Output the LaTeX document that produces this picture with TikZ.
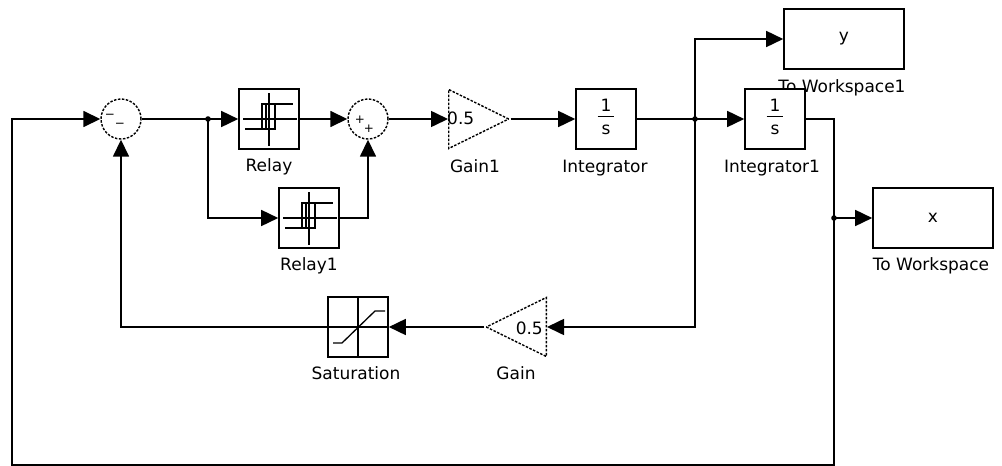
\documentclass[tikz,border=0pt]{standalone}
\usepackage{fontspec}
\setmainfont{DejaVu Sans}
\usetikzlibrary{arrows.meta,shapes.geometric,positioning}
\newcommand{\lblfont}{\fontsize{17}{20}\selectfont}
\newcommand{\signfont}{\fontsize{12}{13}\selectfont}
\newcommand{\oneovers}{\begin{tabular}{@{\hspace{3pt}}c@{\hspace{3pt}}}1\\[-2pt]\hline\rule{0pt}{18pt}s\end{tabular}}
\tikzstyle{block} = [rectangle, draw=black, line width=1.6pt, fill=white, inner sep=0pt, minimum width=60pt, minimum height=60pt, font=\lblfont]
\tikzstyle{sumnode} = [circle, draw=black, line width=1.4pt, dash pattern=on 2.5pt off 1.5pt, minimum size=40pt, inner sep=0pt]
\tikzstyle{gainnode} = [isosceles triangle, isosceles triangle stretches, draw=black, line width=1.4pt, dash pattern=on 2.5pt off 1.5pt, minimum width=59pt, minimum height=60pt, inner sep=0pt]
\tikzstyle{arrow} = [line width=1.6pt, -{Triangle[length=17pt,width=16pt]}]
\tikzstyle{wire} = [line width=1.6pt]
\tikzstyle{icon} = [line width=1.3pt]
\tikzstyle{lbl} = [font=\lblfont, inner sep=0pt, anchor=base]
\tikzstyle{sign} = [font=\signfont, inner sep=0pt]

\begin{document}
\begin{tikzpicture}[x=1pt,y=-1pt]
\useasboundingbox (0,0) rectangle (1002,466);

% Blocks
\node (sum1) [sumnode] at (121,119) {};
\node (relay) [block] at (269,119) {};
\node (relay1) [block] at (309,218) {};
\node (sum2) [sumnode] at (368,119) {};
\node (gain1) [gainnode, anchor=lower side] at (448,119) {};
\node (integ) [block] at (606,119) {\oneovers};
\node (tows1lbl) [lbl] at (842,92) {To Workspace1};
\node (tows1) [block, minimum width=120pt] at (844,39) {y};
\node (integ1) [block] at (775,119) {\oneovers};
\node (tows) [block, minimum width=120pt] at (933,218) {x};
\node (sat) [block] at (358,327) {};
\node (gain) [gainnode, shape border rotate=180, anchor=lower side] at (547,327) {};

% Texts inside
\node (gain1val) [lbl, anchor=base west] at (447,124) {0.5};
\node (gainval) [lbl, anchor=base east] at (543,334) {0.5};
\node (sum1a) [sign] at (110,116) {−};
\node (sum1b) [sign] at (120,125) {−};
\node (sum2a) [sign] at (360,120) {+};
\node (sum2b) [sign] at (369,129) {+};

% Labels
\node (relaylbl) [lbl] at (269,171) {Relay};
\node (relay1lbl) [lbl] at (309,270) {Relay1};
\node (gain1lbl) [lbl] at (475,172) {Gain1};
\node (integlbl) [lbl] at (605,172) {Integrator};
\node (integ1lbl) [lbl] at (772,172) {Integrator1};
\node (towslbl) [lbl] at (931,270) {To Workspace};
\node (satlbl) [lbl] at (356,379) {Saturation};
\node (gainlbl) [lbl] at (516,379) {Gain};

% Icons
\foreach \r in {relay,relay1} {
  \begin{scope}[shift={(\r.center)}, icon]
    \draw (0,-26) -- (0,27);
    \draw (-26,0) -- (28,0);
    \draw (-7,-15) -- (24,-15);
    \draw (-24,10) -- (6,10);
    \draw (-7,-15) rectangle (6,10);
    \draw (-3,-15) -- (-3,10);
  \end{scope}
}
\begin{scope}[shift={(sat.center)}, icon]
  \draw (0,-30) -- (0,30);
  \draw (-30,0) -- (30,0);
  \draw (-25,16) -- (-16,16) -- (17,-16) -- (27,-16);
\end{scope}

% Branch points
\coordinate (sp1) at (208,119);
\coordinate (sp2) at (695,119);
\coordinate (sp3) at (834,218);
\coordinate (cbr) at (834,465);
\coordinate (cbl) at (12,465);

% Arrows
\draw [arrow] (sum1.east) -- (relay.west);
\draw [arrow] (sp1) |- (relay1.west);
\draw [arrow] (relay.east) -- (sum2.west);
\draw [arrow] (relay1.east) -| (sum2.south);
\draw [arrow] (sum2.east) -- (gain1.lower side);
\draw [arrow] (gain1.apex) -- (integ.west);
\draw [wire] (integ.east) -- (sp2);
\draw [arrow] (sp2) -- (integ1.west);
\draw [arrow] (sp2) |- (tows1.west);
\draw [arrow] (sp2) |- (gain.lower side);
\draw [arrow] (gain.apex) -- (sat.east);
\draw [arrow] (sat.west) -| (sum1.south);
\draw [arrow] (sp3) -- (tows.west);
\draw [arrow] (integ1.east) -| (cbr) -- (cbl) |- (sum1.west);

\foreach \p in {sp1,sp2,sp3} \fill (\p) circle (2.8pt);

\end{tikzpicture}
\end{document}
